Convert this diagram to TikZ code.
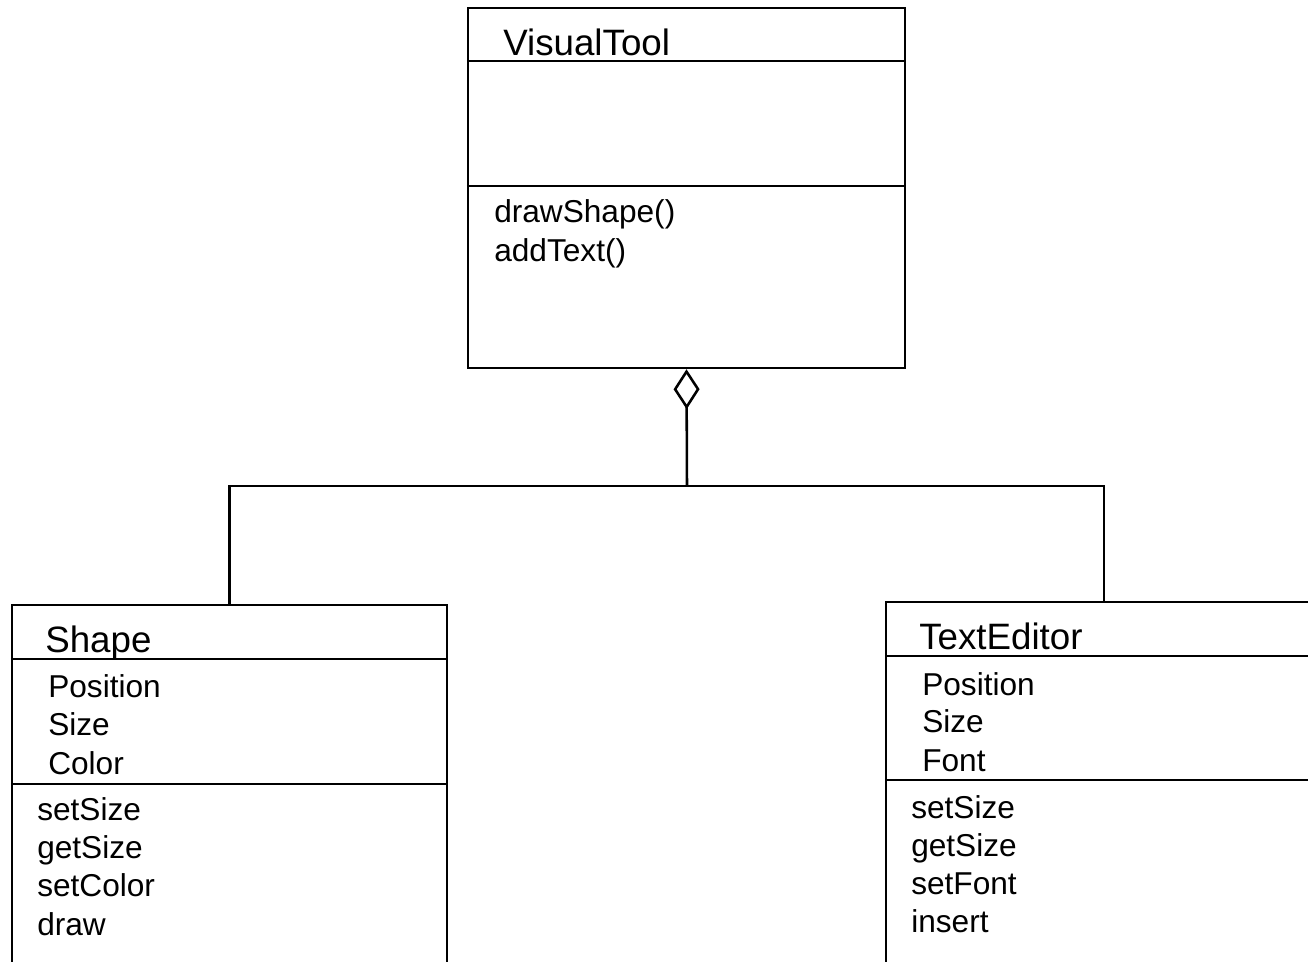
\documentclass[tikz,border=0pt]{standalone}
\usepackage{fontspec}
\setmainfont{Liberation Sans}
\usetikzlibrary{arrows.meta,positioning}

\begin{document}
\begin{tikzpicture}[x=0.02cm, y=-0.02cm, line width=1.45pt]
	\tikzstyle{classbox}
	  =[draw, rectangle, inner sep=0pt]
	\tikzstyle{title}
	  =[inner sep=0pt, anchor=base west, 
	  font=\fontsize{20.9pt}{25pt}\selectfont]
	\tikzstyle{member}
	  =[inner sep=0pt, anchor=base west, 
	  font=\fontsize{18pt}{22pt}\selectfont]
	\tikzstyle{aggr}
	  =[-{Diamond[open, length=0.8cm, width=0.52cm]}]

	\useasboundingbox (0,0) rectangle (1308,961);
	\clip (0,0) rectangle (1308,961);

	% classes
	\node[classbox, minimum width=8.74cm, minimum height=7.2cm] 
	  (visualtool) at (686.5,188) {};
	\node[classbox, minimum width=8.7cm, minimum height=7.9cm] 
	  (shape) at (229.5,802.5) {};
	\node[classbox, minimum width=9.08cm, minimum height=7.96cm] 
	  (texteditor) at (1113,801) {};

	% compartments
	\draw (visualtool.west |- 0,61) -- (visualtool.east |- 0,61);
	\draw (visualtool.west |- 0,186) -- (visualtool.east |- 0,186);
	\draw (shape.west |- 0,659) -- (shape.east |- 0,659);
	\draw (shape.west |- 0,784) -- (shape.east |- 0,784);
	\draw (texteditor.west |- 0,656) -- (texteditor.east |- 0,656);
	\draw (texteditor.west |- 0,780) -- (texteditor.east |- 0,780);

	\node[title] (vt_name) at (502,55) {VisualTool};
	\node[member] (vt_op1) at (493,222) {drawShape()};
	\node[member] (vt_op2) at (493,261) {addText()};

	\node[title] (sh_name) at (44,652) {Shape};
	\node[member] (sh_at1) at (47,697) {Position};
	\node[member] (sh_at2) at (47,735) {Size};
	\node[member] (sh_at3) at (47,774) {Color};
	\node[member] (sh_op1) at (36,820) {setSize};
	\node[member] (sh_op2) at (36,858) {getSize};
	\node[member] (sh_op3) at (36,896) {setColor};
	\node[member] (sh_op4) at (36,935) {draw};

	\node[title] (te_name) at (918,649) {TextEditor};
	\node[member] (te_at1) at (921,695) {Position};
	\node[member] (te_at2) at (921,732) {Size};
	\node[member] (te_at3) at (921,771) {Font};
	\node[member] (te_op1) at (910,818) {setSize};
	\node[member] (te_op2) at (910,856) {getSize};
	\node[member] (te_op3) at (910,894) {setFont};
	\node[member] (te_op4) at (910,932) {insert};

	% aggregation
	\coordinate (join) at (687,486);
	\draw[aggr] (join)--(visualtool.south);
	\draw (shape.north)|-(join);
	\draw ([xshift=-0.18cm]texteditor.north)|-(join);
\end{tikzpicture}
\end{document}
